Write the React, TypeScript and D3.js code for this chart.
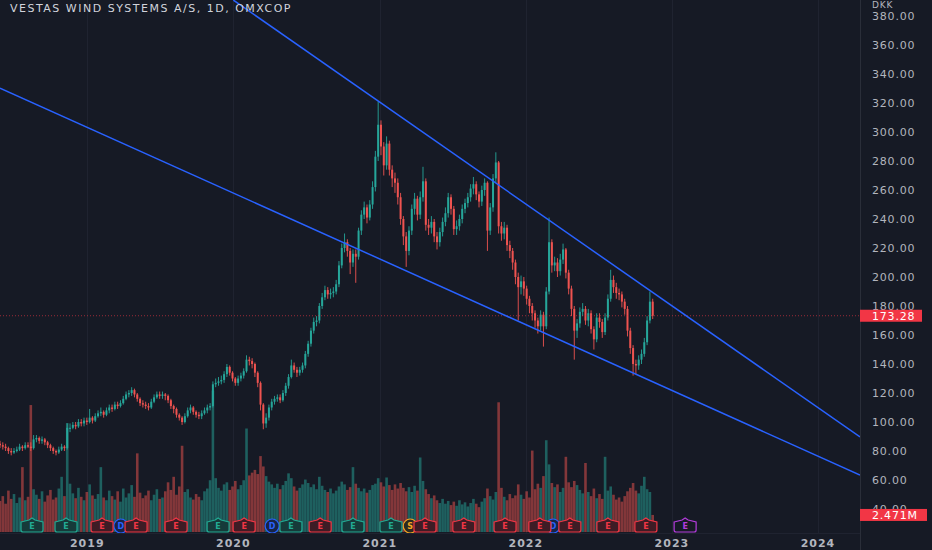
import React from 'react';
import * as d3 from 'd3';

const W = 932;
const H = 550;
const PLOT_R = 860;
const PLOT_B = 533;

const title = 'VESTAS WIND SYSTEMS A/S, 1D, OMXCOP';
const currency = 'DKK';
const lastPrice = 173.28;
const lastVolume = 2.471;
const lastVolumeLabel = '2.471M';

// weekly candles, one per week from the start date
const startWeek = '2018-05-28';
const firstOpen = 85;
const closes = [
  84, 83, 82, 80, 79, 80, 81, 83, 82, 84,
  83, 82, 88, 89, 87, 88, 86, 84, 82, 80,
  79, 81, 83, 82, 96, 96, 98, 97, 100, 99,
  101, 100, 103, 101, 104, 106, 107, 105, 108, 110,
  109, 112, 111, 113, 116, 119, 120, 122, 119, 116,
  113, 112, 111, 110, 114, 117, 119, 118, 119, 118,
  115, 111, 109, 105, 103, 100, 104, 108, 110, 107,
  105, 104, 106, 108, 110, 111, 126, 127, 128, 129,
  133, 138, 134, 130, 127, 130, 132, 135, 143, 142,
  140, 134, 127, 112, 99, 103, 110, 114, 116, 117,
  115, 120, 125, 131, 139, 136, 134, 136, 139, 147,
  154, 163, 169, 170, 180, 186, 191, 188, 189, 190,
  195, 208, 220, 224, 218, 210, 216, 214, 232, 243,
  248, 241, 250, 262, 283, 305, 290, 277, 292, 274,
  268, 265, 255, 240, 228, 218, 232, 247, 254, 243,
  255, 266, 236, 234, 238, 228, 224, 231, 238, 244,
  255, 247, 233, 235, 240, 247, 251, 255, 261, 264,
  257, 252, 260, 265, 232, 248, 268, 279, 235, 230,
  234, 222, 218, 210, 200, 193, 197, 192, 185, 180,
  175, 170, 166, 174, 166, 190, 224, 208, 210, 204,
  212, 219, 203, 192, 178, 163, 168, 176, 178, 170,
  175, 164, 157, 172, 169, 162, 172, 185, 198, 193,
  189, 188, 183, 178, 163, 151, 140, 139, 143, 147,
  155, 170, 183, 173.28,
];
const highs = [
  87, 86, 85, 83, 82, 82, 83, 85, 84, 86,
  86, 86, 91, 91, 90, 90, 89, 87, 85, 83,
  81, 83, 85, 84, 99, 99, 100, 100, 102, 102,
  103, 103, 109, 104, 106, 108, 110, 108, 110, 112,
  112, 114, 114, 115, 118, 121, 122, 124, 123, 120,
  117, 115, 114, 113, 116, 119, 121, 121, 121, 120,
  119, 116, 112, 110, 106, 104, 106, 110, 112, 111,
  108, 107, 108, 110, 112, 113, 128, 130, 131, 132,
  135, 140, 139, 135, 131, 132, 134, 137, 146, 145,
  144, 141, 135, 128, 113, 106, 112, 116, 118, 119,
  119, 122, 127, 133, 143, 141, 138, 138, 141, 149,
  156, 165, 172, 173, 182, 189, 194, 193, 192, 193,
  198, 211, 223, 230, 226, 220, 219, 219, 234, 246,
  252, 250, 253, 266, 287, 321, 308, 293, 297, 294,
  277, 272, 268, 258, 242, 231, 235, 250, 258, 256,
  259, 276, 268, 240, 242, 240, 231, 234, 241, 248,
  258, 257, 249, 239, 243, 250, 254, 258, 264, 269,
  266, 259, 263, 268, 266, 251, 271, 286, 280, 238,
  238, 236, 225, 220, 212, 203, 201, 200, 194, 187,
  182, 177, 172, 177, 176, 193, 241, 226, 214, 213,
  216, 223, 220, 205, 194, 180, 171, 179, 182, 180,
  178, 177, 166, 175, 175, 171, 175, 188, 205, 201,
  196, 192, 190, 185, 180, 165, 153, 143, 146, 150,
  158, 173, 190, 185,
];
const lows = [
  82, 81, 80, 78, 77, 78, 79, 80, 80, 81,
  82, 80, 81, 86, 85, 85, 84, 82, 80, 78,
  77, 78, 80, 80, 81, 93, 95, 95, 96, 97,
  97, 98, 99, 99, 100, 103, 104, 103, 104, 106,
  107, 108, 109, 110, 112, 115, 117, 118, 117, 114,
  111, 110, 109, 108, 109, 113, 116, 116, 116, 115,
  113, 109, 106, 103, 101, 98, 99, 103, 106, 105,
  103, 102, 102, 105, 106, 108, 110, 124, 125, 126,
  127, 131, 132, 128, 125, 125, 128, 130, 134, 139,
  137, 131, 124, 108, 95, 96, 101, 108, 112, 114,
  113, 114, 118, 123, 130, 134, 131, 132, 134, 137,
  145, 152, 161, 166, 168, 178, 184, 185, 185, 186,
  188, 193, 206, 217, 214, 202, 207, 196, 212, 229,
  240, 237, 239, 247, 259, 280, 284, 270, 274, 270,
  262, 258, 250, 236, 222, 207, 215, 229, 243, 239,
  240, 252, 232, 229, 230, 224, 219, 221, 228, 235,
  241, 243, 229, 229, 232, 237, 244, 248, 252, 257,
  253, 248, 249, 256, 218, 229, 245, 265, 230, 225,
  226, 218, 213, 205, 195, 170, 188, 187, 181, 175,
  170, 165, 161, 163, 152, 164, 188, 203, 204, 200,
  201, 209, 199, 188, 173, 143, 158, 165, 173, 167,
  166, 161, 150, 155, 165, 158, 160, 170, 183, 189,
  185, 184, 179, 174, 159, 147, 132, 133, 136, 140,
  145, 153, 168, 171,
];
// volume in millions
const volumes = [
  4.5, 5.2, 4.1, 6.0, 4.8, 5.5, 4.2, 5.0, 9.4, 4.6,
  5.1, 18.4, 6.2, 5.4, 4.8, 5.9, 4.4, 5.3, 6.1, 4.7,
  5.0, 6.3, 8.0, 5.2, 15.8, 7.0, 5.6, 4.9, 6.4, 5.1,
  4.6, 5.8, 6.9, 5.3, 4.8, 5.5, 9.4, 5.0, 4.6, 6.0,
  5.2, 4.7, 5.9, 4.4, 6.3, 5.0, 5.6, 6.8, 5.1, 11.4,
  5.7, 4.9, 5.3, 6.0, 4.6, 5.4, 6.2, 4.8, 5.0, 5.9,
  7.2, 6.1, 8.0, 5.4, 6.6, 12.5, 5.8, 6.2, 5.0, 4.7,
  5.5, 5.1, 4.6, 5.9, 6.3, 7.5, 20.5, 7.8, 6.4, 6.0,
  6.9, 7.2, 6.1, 6.6, 7.4, 6.2, 6.8, 7.5, 15.0, 8.2,
  8.6, 9.0, 8.4, 11.0, 9.5, 8.1, 7.3, 6.9, 6.4, 7.0,
  6.2, 6.8, 7.4, 8.5, 7.8, 6.6, 6.0, 6.4, 6.9, 7.6,
  7.1, 6.5, 6.9, 6.2, 8.0, 6.7, 6.1, 5.8, 6.3, 5.6,
  6.0, 6.6, 7.3, 6.9, 6.1, 6.5, 9.4, 7.0, 6.4, 5.9,
  6.3, 5.7, 6.1, 6.8, 7.0, 7.8, 7.2, 6.6, 7.9, 6.8,
  6.1, 6.9, 6.3, 7.1, 6.4, 5.9, 6.5, 5.8, 6.7, 6.0,
  10.8, 7.4, 6.2, 5.5, 4.9, 5.3, 4.6, 4.2, 4.8, 4.1,
  4.5, 3.9, 4.4, 3.8, 4.6, 4.0, 4.3, 3.7, 4.2, 4.8,
  4.1, 3.6, 4.4, 4.9, 6.3, 5.2, 4.7, 5.8, 18.8, 6.4,
  5.1, 4.6, 5.5, 4.9, 5.3, 6.9, 5.4, 4.8, 5.9, 5.0,
  11.8, 6.2, 7.0, 6.4, 8.1, 13.3, 9.8, 7.1, 6.5, 6.9,
  5.8, 6.4, 10.9, 7.2, 6.5, 7.4, 6.8, 6.1, 5.6, 10.0,
  5.8, 5.2, 6.3, 4.9, 5.5, 4.8, 10.9, 6.0, 6.6, 5.4,
  4.7, 5.0, 4.4, 5.2, 5.9, 6.4, 7.1, 6.0, 5.6, 6.7,
  8.0, 6.2, 5.8, 2.471,
];

const priceTicks = [40, 60, 80, 100, 120, 140, 160, 180, 200, 220, 240, 260, 280, 300, 320, 340, 360, 380];
const yearTicks = [2019, 2020, 2021, 2022, 2023, 2024];

const upperTrend = [
  { date: '2020-01-01', price: 391 },
  { date: '2024-04-15', price: 89.7 },
];
const lowerTrend = [
  { date: '2018-05-28', price: 330.3 },
  { date: '2024-04-15', price: 63.4 },
];

// E = earnings (beat / miss / upcoming), D = dividend, S = split
const events = [
  { date: '2018-08-16', kind: 'beat' },
  { date: '2018-11-09', kind: 'beat' },
  { date: '2019-02-07', kind: 'miss' },
  { date: '2019-03-26', kind: 'div' },
  { date: '2019-05-03', kind: 'miss' },
  { date: '2019-08-11', kind: 'miss' },
  { date: '2019-11-24', kind: 'beat' },
  { date: '2020-01-28', kind: 'miss' },
  { date: '2020-04-07', kind: 'div' },
  { date: '2020-05-24', kind: 'beat' },
  { date: '2020-08-05', kind: 'miss' },
  { date: '2020-10-26', kind: 'beat' },
  { date: '2021-01-29', kind: 'beat' },
  { date: '2021-03-18', kind: 'split' },
  { date: '2021-04-24', kind: 'miss' },
  { date: '2021-07-30', kind: 'miss' },
  { date: '2021-11-10', kind: 'miss' },
  { date: '2022-02-05', kind: 'miss' },
  { date: '2022-03-10', kind: 'div' },
  { date: '2022-04-21', kind: 'miss' },
  { date: '2022-07-25', kind: 'miss' },
  { date: '2022-10-28', kind: 'miss' },
  { date: '2023-02-03', kind: 'future' },
];

const BG = '#161a25';
const UP = '#26a69a';
const DOWN = '#ef5350';
const AXIS_TEXT = '#b2b5be';
const TREND = '#2962ff';
const FONT = '"DejaVu Sans", "Noto Sans", sans-serif';

const x = d3.scaleUtc()
  .domain([new Date('2018-05-28'), new Date('2024-04-15')])
  .range([0, PLOT_R]);
const y = d3.scaleLinear().domain([40, 380]).range([509, 16]);
const v = d3.scaleLinear().domain([0, 20]).range([532, 394]);

const start = new Date(startWeek);
const candles = closes.map((c, i) => {
  const open = i === 0 ? firstOpen : closes[i - 1];
  return {
    date: d3.utcDay.offset(start, 7 * i),
    open,
    close: c,
    high: highs[i],
    low: lows[i],
    volume: volumes[i],
    up: c >= open,
  };
});

const eventStyle: Record<string, { stroke: string; fill: string; label: string }> = {
  beat: { stroke: '#22ab94', fill: '#163a3a', label: 'E' },
  miss: { stroke: '#f23645', fill: '#3e1c25', label: 'E' },
  future: { stroke: '#b43cdc', fill: 'none', label: 'E' },
  div: { stroke: '#2962ff', fill: '#172447', label: 'D' },
  split: { stroke: '#f5a623', fill: '#2c2a22', label: 'S' },
};

const badgePath = (cx: number, cy: number) => {
  const w = 11, h = 6;
  return `M${cx - w},${cy - h + 2} L${cx - 3},${cy - h} L${cx},${cy - h - 2} L${cx + 3},${cy - h} L${cx + w},${cy - h + 2}
    L${cx + w},${cy + h - 2} Q${cx + w},${cy + h} ${cx + w - 2},${cy + h} L${cx - w + 2},${cy + h} Q${cx - w},${cy + h} ${cx - w},${cy + h - 2} Z`;
};

const trendLine = d3.line<{ date: string; price: number }>()
  .x(d => x(new Date(d.date)))
  .y(d => y(d.price));

export default function App() {
  const lastY = y(lastPrice);
  const volY = v(lastVolume);
  const cy = 526;
  const sorted = [...events].sort((a, b) =>
    (a.kind === 'div' || a.kind === 'split' ? 0 : 1) - (b.kind === 'div' || b.kind === 'split' ? 0 : 1));

  return (
    <svg width={W} height={H} style={{ position: 'absolute', left: 0, top: 0, display: 'block' }} fontFamily={FONT}>
      <rect width={W} height={H} fill={BG} />
      <defs>
        <clipPath id="plot"><rect x={0} y={0} width={PLOT_R} height={PLOT_B} /></clipPath>
      </defs>

      {/* year grid */}
      {yearTicks.map(yr => {
        const gx = Math.round(x(new Date(`${yr}-01-01`))) + 0.5;
        return <line key={yr} x1={gx} x2={gx} y1={0} y2={PLOT_B} stroke="#1f2330" strokeWidth={1} />;
      })}

      <g clipPath="url(#plot)">
        {/* volume */}
        {candles.map((d, i) => (
          <rect key={`v${i}`} x={x(d.date) - 1.3} width={2.6} y={v(d.volume)} height={v(0) - v(d.volume)}
            fill={d.up ? UP : DOWN} opacity={0.5} />
        ))}

        {/* candles */}
        {candles.map((d, i) => {
          const cx = x(d.date);
          const top = y(Math.max(d.open, d.close));
          const bot = y(Math.min(d.open, d.close));
          const col = d.up ? UP : DOWN;
          return (
            <g key={`c${i}`}>
              <line x1={cx} x2={cx} y1={y(d.high)} y2={y(d.low)} stroke={col} strokeWidth={0.9} />
              <rect x={cx - 1} width={2} y={top} height={Math.max(1, bot - top)} fill={col} />
            </g>
          );
        })}

        {/* last price line */}
        <line x1={0} x2={PLOT_R} y1={lastY} y2={lastY} stroke="#f23645" strokeOpacity={0.6} strokeDasharray="1 2" />

        {/* trend lines */}
        <path d={trendLine(upperTrend) || ''} stroke={TREND} strokeWidth={1.5} fill="none" />
        <path d={trendLine(lowerTrend) || ''} stroke={TREND} strokeWidth={1.5} fill="none" />

        {/* events */}
        {sorted.map((e, i) => {
          const st = eventStyle[e.kind];
          const ex = x(new Date(e.date));
          if (e.kind === 'div' || e.kind === 'split') {
            return (
              <g key={`e${i}`}>
                <circle cx={ex} cy={cy} r={7} fill={st.fill} stroke={st.stroke} strokeWidth={1.2} />
                <text x={ex} y={cy} dy="0.35em" textAnchor="middle" fontSize={8} fontWeight="bold" fill={st.stroke}>{st.label}</text>
              </g>
            );
          }
          return (
            <g key={`e${i}`}>
              <path d={badgePath(ex, cy)} fill={st.fill} stroke={st.stroke} strokeWidth={1.2} />
              <text x={ex} y={cy + 0.5} dy="0.35em" textAnchor="middle" fontSize={8} fontWeight="bold" fill={st.stroke}>{st.label}</text>
            </g>
          );
        })}
      </g>

      {/* title */}
      <text x={10} y={12} fontSize={11} letterSpacing={1.5} fill="#d1d4dc">{title}</text>

      {/* price axis */}
      <line x1={PLOT_R + 0.5} x2={PLOT_R + 0.5} y1={0} y2={H} stroke="#2a2e39" />
      <text x={872} y={5} dy="0.35em" fontSize={9} letterSpacing={0.8} fill={AXIS_TEXT}>{currency}</text>
      {priceTicks.map(p => (
        <text key={p} x={872} y={y(p)} dy="0.35em" fontSize={11} letterSpacing={0.8} fill={AXIS_TEXT}>{p.toFixed(2)}</text>
      ))}
      <rect x={PLOT_R} y={lastY - 6} width={62} height={12} fill="#f23645" />
      <text x={872} y={lastY} dy="0.35em" fontSize={11} letterSpacing={0.8} fill="#ffffff">{lastPrice.toFixed(2)}</text>
      <rect x={PLOT_R} y={volY - 6} width={67} height={12} fill="#f23645" />
      <text x={872} y={volY} dy="0.35em" fontSize={11} letterSpacing={0.8} fill="#ffffff">{lastVolumeLabel}</text>

      {/* time axis */}
      <line x1={0} x2={PLOT_R} y1={PLOT_B + 0.5} y2={PLOT_B + 0.5} stroke="#1f2330" />
      {yearTicks.map(yr => (
        <text key={`t${yr}`} x={x(new Date(`${yr}-01-01`))} y={543} dy="0.35em" textAnchor="middle"
          fontSize={11} fontWeight="bold" letterSpacing={1} fill={AXIS_TEXT}>{yr}</text>
      ))}
    </svg>
  );
}
